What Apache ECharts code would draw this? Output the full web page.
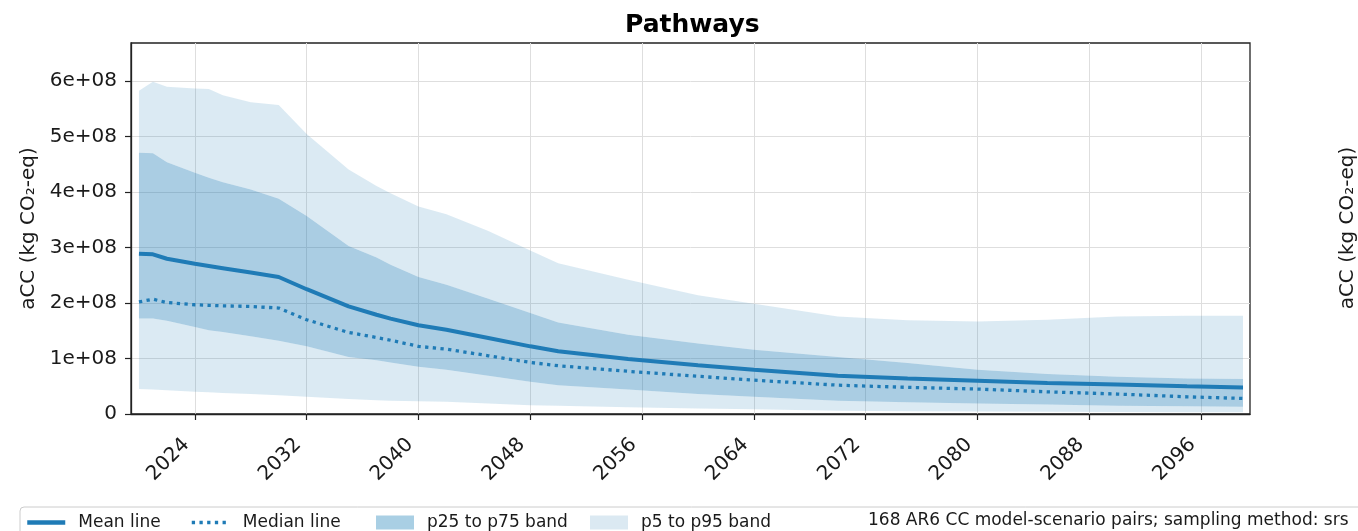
<!DOCTYPE html>
<html>
<head>
<meta charset="utf-8">
<script src="https://cdn.jsdelivr.net/npm/echarts@6/dist/echarts.min.js"></script>
<style>html,body{margin:0;padding:0;background:#fff;}#c{width:1358px;height:531px;}</style>
</head>
<body>
<div id="c"></div>
<script>
const years  = [2020,2021,2022,2024,2025,2026,2028,2030,2032,2035,2037,2038,2040,2042,2045,2048,2050,2055,2060,2064,2070,2075,2080,2085,2090,2095,2099];
const p95    = [5.83e8,5.99e8,5.90e8,5.87e8,5.86e8,5.75e8,5.62e8,5.57e8,5.05e8,4.41e8,4.11e8,3.98e8,3.74e8,3.60e8,3.30e8,2.95e8,2.72e8,2.42e8,2.14e8,1.99e8,1.76e8,1.69e8,1.67e8,1.70e8,1.76e8,1.77e8,1.77e8];
const p75    = [4.71e8,4.70e8,4.54e8,4.35e8,4.26e8,4.18e8,4.05e8,3.88e8,3.57e8,3.03e8,2.82e8,2.69e8,2.47e8,2.33e8,2.08e8,1.82e8,1.65e8,1.43e8,1.27e8,1.16e8,1.03e8,0.92e8,0.80e8,0.72e8,0.67e8,0.64e8,0.63e8];
const meanV  = [2.89e8,2.88e8,2.80e8,2.71e8,2.67e8,2.63e8,2.55e8,2.47e8,2.25e8,1.94e8,1.79e8,1.72e8,1.60e8,1.52e8,1.37e8,1.22e8,1.13e8,0.99e8,0.88e8,0.80e8,0.69e8,0.64e8,0.60e8,0.56e8,0.53e8,0.50e8,0.48e8];
const median = [2.02e8,2.07e8,2.01e8,1.97e8,1.96e8,1.95e8,1.94e8,1.91e8,1.70e8,1.47e8,1.38e8,1.33e8,1.22e8,1.17e8,1.05e8,0.93e8,0.87e8,0.77e8,0.68e8,0.61e8,0.52e8,0.48e8,0.45e8,0.40e8,0.36e8,0.31e8,0.28e8];
const p25    = [1.72e8,1.72e8,1.68e8,1.57e8,1.51e8,1.48e8,1.40e8,1.32e8,1.22e8,1.03e8,0.97e8,0.93e8,0.85e8,0.80e8,0.69e8,0.58e8,0.52e8,0.44e8,0.36e8,0.31e8,0.24e8,0.21e8,0.19e8,0.17e8,0.15e8,0.14e8,0.13e8];
const p5     = [0.45e8,0.44e8,0.43e8,0.40e8,0.39e8,0.38e8,0.36e8,0.34e8,0.31e8,0.27e8,0.25e8,0.24e8,0.23e8,0.22e8,0.19e8,0.16e8,0.15e8,0.12e8,0.10e8,0.085e8,0.06e8,0.05e8,0.045e8,0.04e8,0.035e8,0.03e8,0.03e8];
const xTicks = [2024,2032,2040,2048,2056,2064,2072,2080,2088,2096];
const yTicks = [0,1e8,2e8,3e8,4e8,5e8,6e8];
const titleText = 'Pathways';
const yName = 'aCC (kg CO\u2082-eq)';
const noteText = '168 AR6 CC model-scenario pairs; sampling method: srs';

const FONT = 'DejaVu Sans';
const LINE = '#1f7bb6';
const DARK = 'rgba(31,123,182,0.38)';
const LIGHT = 'rgba(31,123,182,0.16)';
const DARK_ICON = '#a9cfe4';
const LIGHT_ICON = '#dbe9f2';
const TXT = '#1a1a1a';
const DOTS = [3.3, 4.4];

// value first, year second (encode maps year to x) so the stack runs on the value dimension
const pair = arr => years.map((y, i) => [arr[i], y]);
const diff = (a, b) => years.map((y, i) => [a[i] - b[i], y]);
const ENC = {x:1, y:0};

const bandBase = {type:'line', stack:'band', symbol:'none', silent:true, encode:ENC, lineStyle:{width:0}, z:1};

const chart = echarts.init(document.getElementById('c'), null, {renderer:'canvas'});
const legendCommon = {orient:'horizontal', top:514, itemWidth:38, itemHeight:14, padding:0,
  textStyle:{fontFamily:FONT, fontSize:17, color:TXT, padding:[0,0,0,8]}, selectedMode:false};

chart.setOption({
  animation:false,
  backgroundColor:'#fff',
  textStyle:{fontFamily:FONT},
  title:{text:titleText, left:625, top:13, padding:0,
    textStyle:{fontFamily:FONT, fontSize:25, fontWeight:'bold', color:'#000'}},
  grid:{left:131, right:108, top:43, bottom:117, show:true, borderColor:'#222', borderWidth:1.3, backgroundColor:'transparent'},
  xAxis:{type:'value', min:2019.43, max:2099.5,
    axisLine:{show:true, lineStyle:{color:'#222', width:1.3}},
    axisTick:{show:true, length:6, customValues:xTicks, lineStyle:{color:'#222', width:1.2}},
    axisLabel:{customValues:xTicks, rotate:45, fontFamily:FONT, fontSize:20, color:TXT, margin:19, padding:[0,12,0,0], formatter:v=>String(v)},
    splitLine:{show:true, lineStyle:{color:'#dedede', width:1}}},
  yAxis:{type:'value', min:0, max:6.69e8,
    name:yName, nameLocation:'middle', nameGap:92,
    nameTextStyle:{fontFamily:FONT, fontSize:20, color:TXT},
    axisLine:{show:true, lineStyle:{color:'#222', width:1.3}},
    axisTick:{show:true, length:6, customValues:yTicks, lineStyle:{color:'#222', width:1.2}},
    axisLabel:{customValues:yTicks, fontFamily:FONT, fontSize:20, color:TXT, margin:14,
      formatter:v=> v===0 ? '0' : (v/1e8).toFixed(0)+'e+08'},
    splitLine:{show:true, lineStyle:{color:'#dedede', width:1}}},
  legend:[
    Object.assign({left:25, data:[{name:'Mean line', itemStyle:{opacity:0}, lineStyle:{width:4.5, color:LINE}}]}, legendCommon),
    Object.assign({left:190, data:[{name:'Median line', itemStyle:{opacity:0}, lineStyle:{width:3.5, color:LINE, type:DOTS, cap:'butt'}}]}, legendCommon),
    Object.assign({left:376, data:[{name:'p25 to p75 band', icon:'rect', itemStyle:{color:DARK_ICON}}]}, legendCommon),
    Object.assign({left:590, data:[{name:'p5 to p95 band', icon:'rect', itemStyle:{color:LIGHT_ICON}}]}, legendCommon)
  ],
  graphic:[
    {type:'rect', silent:true, z:-10, shape:{x:20, y:507, width:1360, height:44, r:4},
      style:{fill:'none', stroke:'#cccccc', lineWidth:1}},
    {type:'text', silent:true, x:868, y:521, style:{text:noteText, fontFamily:FONT, fontSize:17, fill:TXT, verticalAlign:'middle', align:'left'}},
    {type:'text', silent:true, x:1348, y:228, rotation:Math.PI/2,
      style:{text:yName, fontFamily:FONT, fontSize:20, fill:TXT, align:'center', verticalAlign:'middle'}}
  ],
  series:[
    Object.assign({name:'base', data:pair(p5), areaStyle:{opacity:0}, color:'rgba(0,0,0,0)'}, bandBase),
    Object.assign({name:'p5 to p95 band', data:diff(p25,p5), color:LIGHT, itemStyle:{color:LIGHT}, areaStyle:{color:LIGHT, opacity:1}}, bandBase),
    Object.assign({name:'p25 to p75 band', data:diff(p75,p25), color:DARK, itemStyle:{color:DARK}, areaStyle:{color:DARK, opacity:1}}, bandBase),
    Object.assign({name:'p5 to p95 band', data:diff(p95,p75), color:LIGHT, itemStyle:{color:LIGHT}, areaStyle:{color:LIGHT, opacity:1}}, bandBase),
    {name:'Mean line', type:'line', data:pair(meanV), encode:ENC, symbol:'none', z:5, color:LINE,
      lineStyle:{color:LINE, width:4}},
    {name:'Median line', type:'line', data:pair(median), encode:ENC, symbol:'none', z:5, color:LINE,
      lineStyle:{color:LINE, width:3.3, type:DOTS, cap:'butt'}}
  ]
});
</script>
</body>
</html>
